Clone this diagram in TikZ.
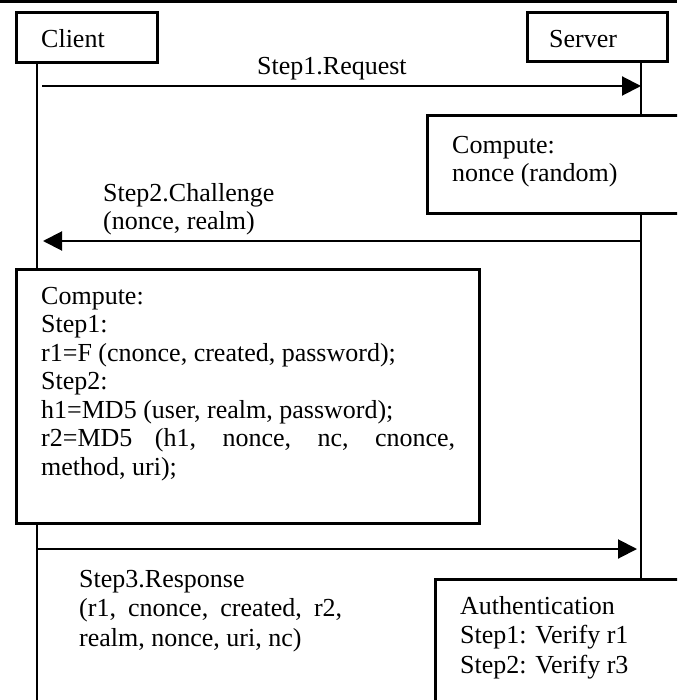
\documentclass[tikz,border=0pt]{standalone}
\usepackage{fontspec}
\setmainfont{Liberation Serif}
\usetikzlibrary{arrows.meta}
\begin{document}
\begin{tikzpicture}[x=1pt,y=-1pt,
  box/.style={draw, line width=3pt, inner sep=0pt, anchor=north west},
  txt/.style={font=\fontsize{26}{28.5}\selectfont, align=left, inner sep=0pt, anchor=base west},
  life/.style={line width=2pt},
  msg/.style={line width=2pt, -{Triangle[length=19pt,width=19pt]}},
]
\useasboundingbox (0,0) rectangle (677,700);
\clip (0,0) rectangle (677,700);
\draw[line width=2.5pt] (0,1.5) -- (677,1.5);

% participants
\node[box, minimum width=141pt, minimum height=50pt] (client) at (14.5,11.5) {};
\node[box, minimum width=140pt, minimum height=49pt] (server) at (525.5,11.5) {};
\node[txt] (clientlbl) at (41,48) {Client};
\node[txt] (serverlbl) at (549,48) {Server};

% computation boxes
\node[box, minimum width=300pt, minimum height=98pt] (scomp) at (425.5,114.5) {};
\node[box, minimum width=463pt, minimum height=254pt] (ccomp) at (14.5,267.5) {};
\node[box, minimum width=300pt, minimum height=200pt] (auth) at (433.5,577.5) {};

% lifelines
\coordinate (cx) at (37,0);
\coordinate (sx) at (641,0);
\coordinate (bottom) at (0,700);
\draw[life] (cx |- client.south) -- (cx |- ccomp.north);
\draw[life] (cx |- ccomp.south) -- (cx |- bottom);
\draw[life] (sx |- server.south) -- (sx |- scomp.north);
\draw[life] (sx |- scomp.south) -- (sx |- auth.north);

% messages
\coordinate (m1) at (0,86);
\coordinate (m2) at (0,241);
\coordinate (m3) at (0,549);
\draw[msg] ([xshift=5pt]cx |- m1) -- (sx |- m1);
\draw[msg] (sx |- m2) -- ([xshift=6pt]cx |- m2);
\draw[msg] (cx |- m3) -- ([xshift=-4pt]sx |- m3);

% labels (multi-line nodes are placed by the baseline of their last line)
\node[txt] (req) at (257,75) {Step1.Request};
\node[txt] (chal) at (103,230) {Step2.Challenge\\(nonce, realm)};
\node[txt] (scompt) at (452,182) {Compute:\\nonce (random)};
\node[txt] (ccompt) at (41,475) {Compute:\\Step1:\\r1=F (cnonce, created, password);\\Step2:\\h1=MD5 (user, realm, password);\\\makebox[414pt][s]{r2=MD5 (h1, nonce, nc, cnonce,}\\method, uri);};
\node[txt, font=\fontsize{26}{29.5}\selectfont] (resp) at (79,646) {Step3.Response\\\makebox[263pt][s]{(r1, cnonce, created, r2,}\\realm, nonce, uri, nc)};
\node[txt, font=\fontsize{26}{29.5}\selectfont] (autht) at (460,673) {Authentication\\Step1: Verify r1\\Step2: Verify r3};
\end{tikzpicture}
\end{document}
